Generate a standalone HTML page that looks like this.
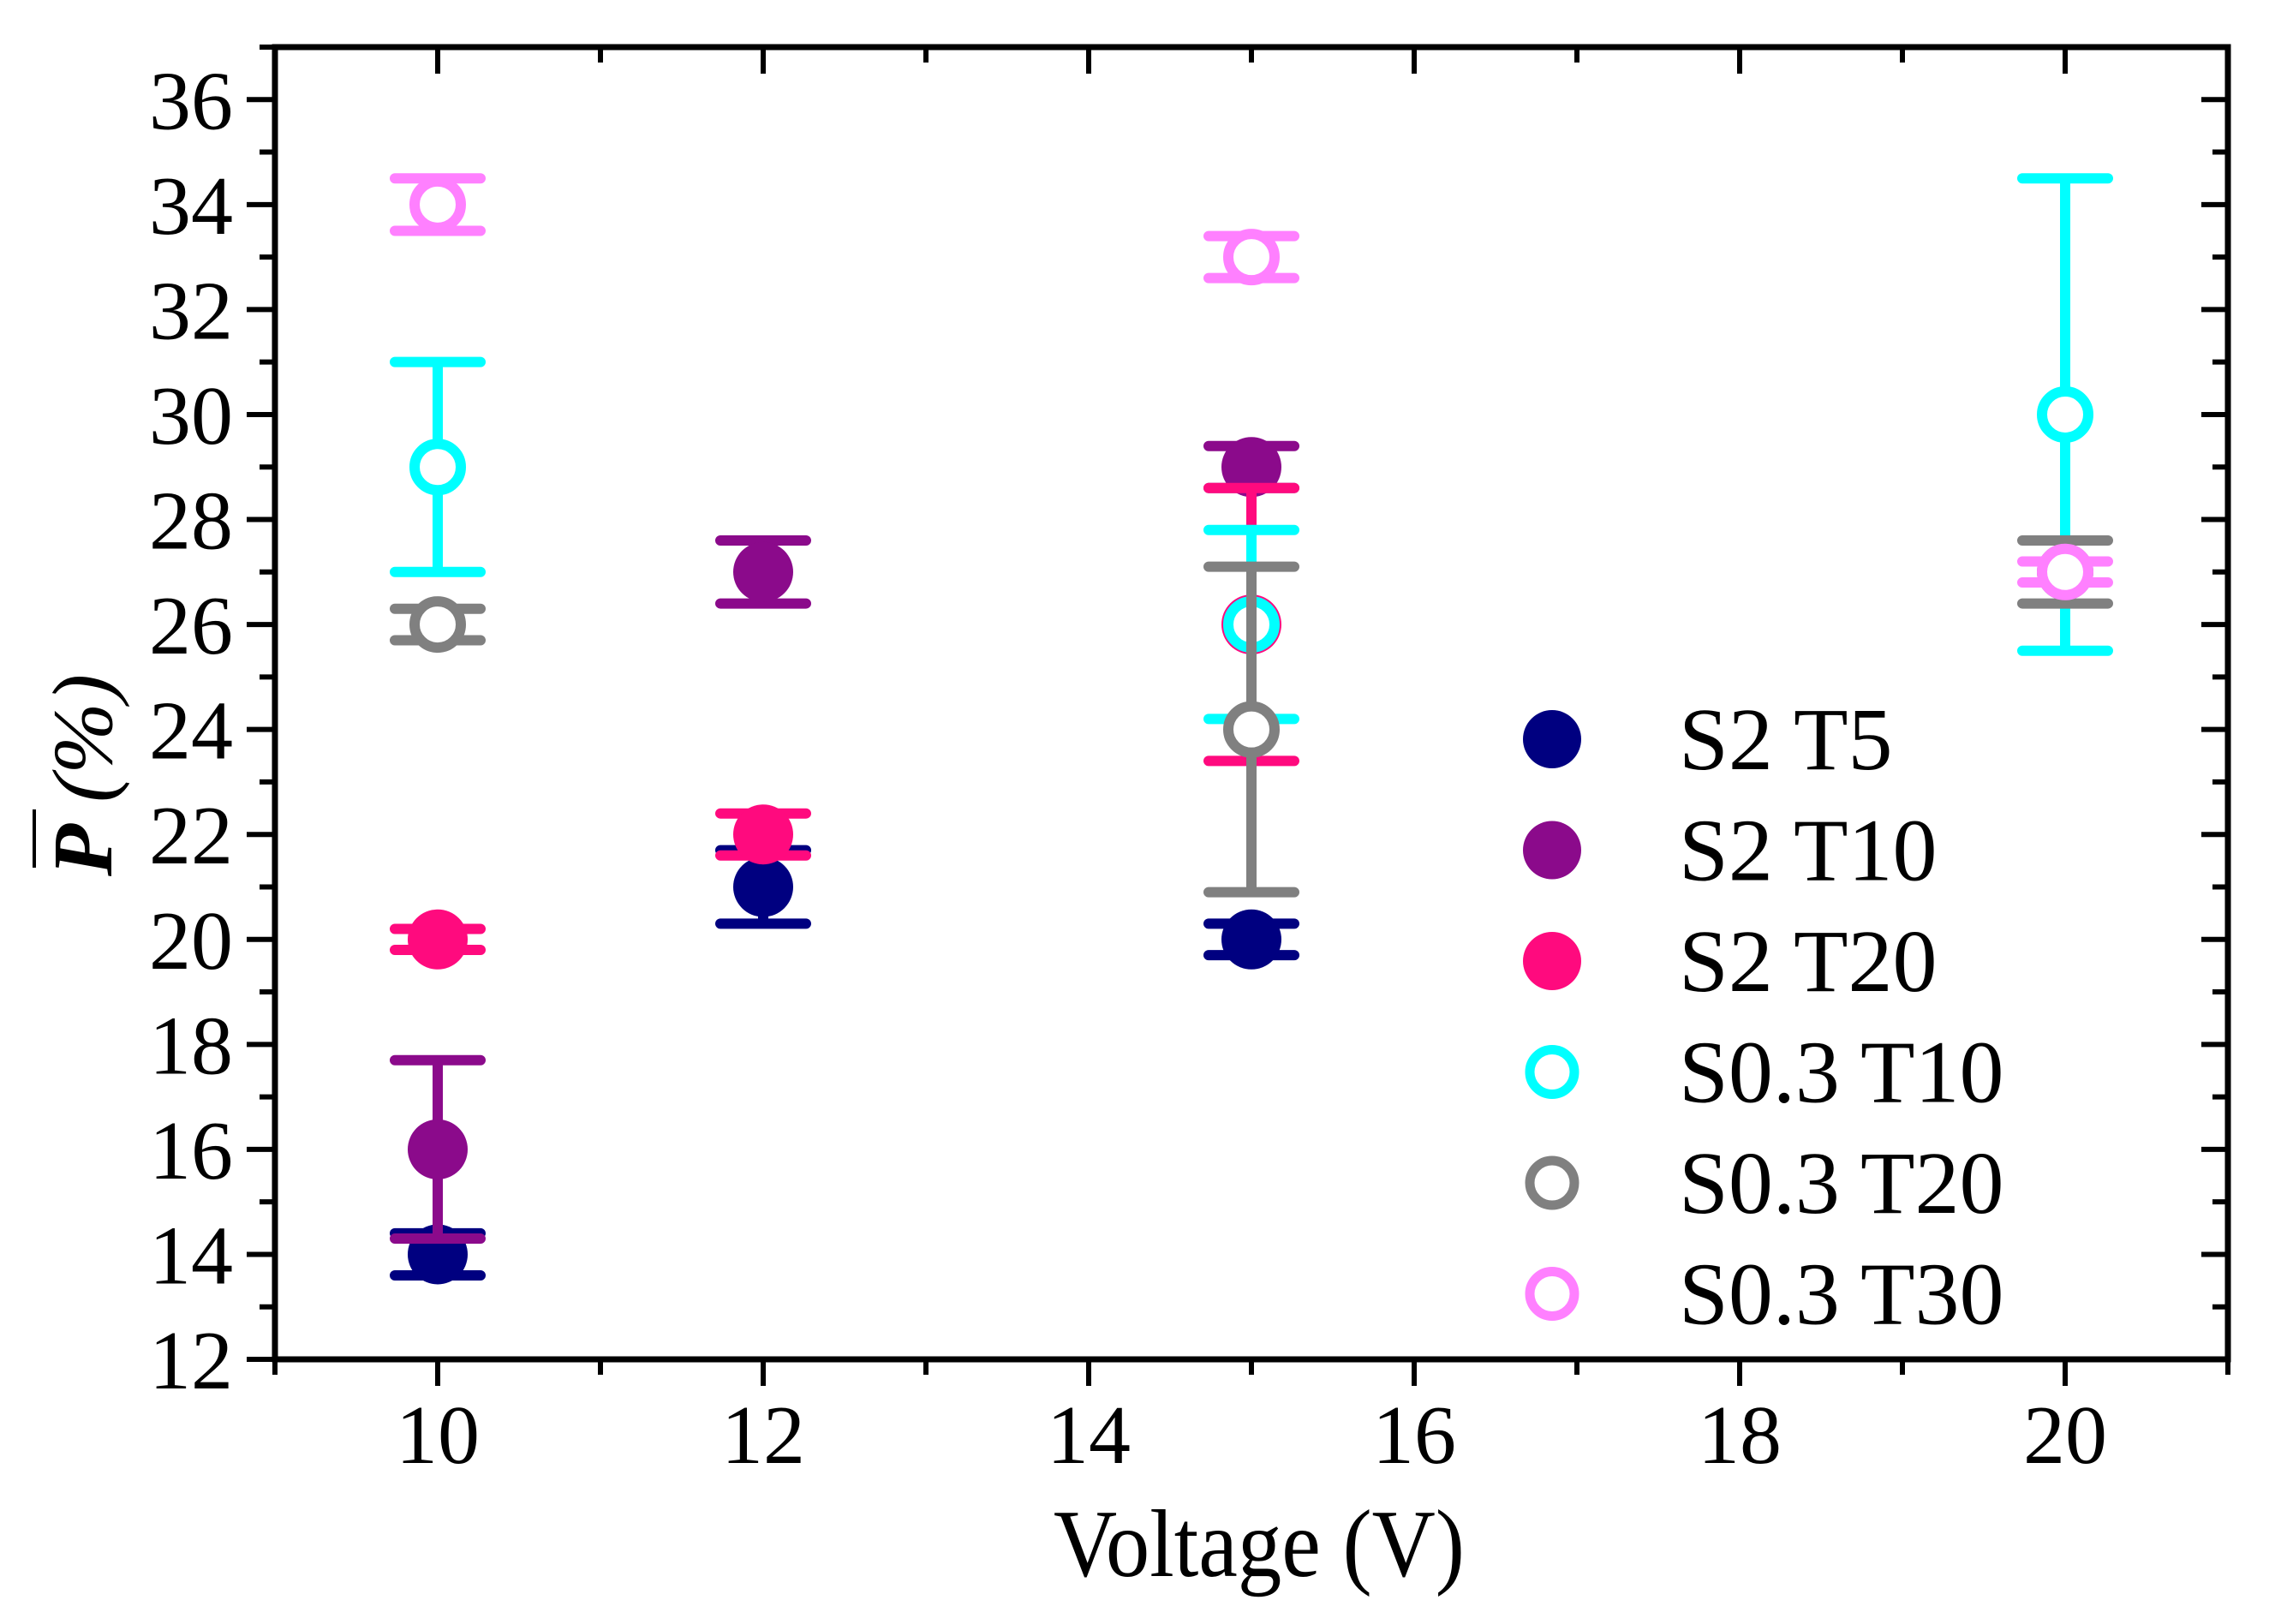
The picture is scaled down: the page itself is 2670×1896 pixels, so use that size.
<!DOCTYPE html>
<html><head><meta charset="utf-8"><style>
html,body{margin:0;padding:0;background:#fff}
svg{display:block}
text{font-family:"Liberation Serif","Times New Roman",Times,serif;fill:#000}
</style></head><body>
<svg id="chart" width="2670" height="1896" viewBox="0 0 2670 1896" xmlns="http://www.w3.org/2000/svg">
<g id="axes"></g>
<g id="marks"></g>
<g id="legend"></g>
<text x="1470" y="1840" font-size="112" text-anchor="middle" font-family="Liberation Serif, serif" textLength="480" lengthAdjust="spacingAndGlyphs">Voltage (V)</text>
<g transform="translate(130,905) rotate(-90)">
<text x="0" y="0" font-size="100" text-anchor="middle" font-family="Liberation Serif, serif"><tspan font-style="italic" font-weight="bold">P</tspan><tspan font-style="italic"> (%)</tspan></text>
</g>
<line x1="40" y1="945" x2="40" y2="1013" stroke="#000" stroke-width="4"/>
</svg>
<script>
const NS='http://www.w3.org/2000/svg';
const xTicks=[10,12,14,16,18,20];
const yTicks=[12,14,16,18,20,22,24,26,28,30,32,34,36];
const seriesNames=['S2 T5','S2 T10','S2 T20','S0.3 T10','S0.3 T20','S0.3 T30'];
const seriesColors=['#000080','#8B0A8B','#FF0A7E','#00FFFF','#808080','#FF80FF'];
const seriesFilled=[true,true,true,false,false,false];
const s2t5X=[10,12,15], s2t5Y=[14,21,20], s2t5Lo=[13.6,20.3,19.7], s2t5Hi=[14.4,21.7,20.3];
const s2t10X=[10,12,15], s2t10Y=[16,27,29], s2t10Lo=[14.3,26.4,28.6], s2t10Hi=[17.7,27.6,29.4];
const s2t20X=[10,12,15], s2t20Y=[20,22,26], s2t20Lo=[19.8,21.6,23.4], s2t20Hi=[20.2,22.4,28.6];
const s03t10X=[10,15,20], s03t10Y=[29,26,30], s03t10Lo=[27,24.2,25.5], s03t10Hi=[31,27.8,34.5];
const s03t20X=[10,15,20], s03t20Y=[26,24,27], s03t20Lo=[25.7,20.9,26.4], s03t20Hi=[26.3,27.1,27.6];
const s03t30X=[10,15,20], s03t30Y=[34,33,27], s03t30Lo=[33.5,32.6,26.8], s03t30Hi=[34.5,33.4,27.2];
const allSeries=[[s2t5X,s2t5Y,s2t5Lo,s2t5Hi],[s2t10X,s2t10Y,s2t10Lo,s2t10Hi],[s2t20X,s2t20Y,s2t20Lo,s2t20Hi],[s03t10X,s03t10Y,s03t10Lo,s03t10Hi],[s03t20X,s03t20Y,s03t20Lo,s03t20Hi],[s03t30X,s03t30Y,s03t30Lo,s03t30Hi]];

const L=321,R=2601,T=55,B=1587,xMin=9,xMax=21,yMin=12,yMax=37;
const X=v=>L+(v-xMin)/(xMax-xMin)*(R-L);
const Y=v=>B-(v-yMin)/(yMax-yMin)*(B-T);
function mk(tag,attrs,parent){const e=document.createElementNS(NS,tag);for(const k in attrs)e.setAttribute(k,attrs[k]);parent.appendChild(e);return e;}
const axes=document.getElementById('axes'),marks=document.getElementById('marks'),legend=document.getElementById('legend');
const frame=mk('rect',{x:L,y:T,width:R-L,height:B-T,fill:'none',stroke:'#000','stroke-width':7},axes);


for(let v=xMin;v<=xMax;v++){
  const major=xTicks.includes(v);const x=X(v);
  const t=mk('line',{x1:x,y1:B,x2:x,y2:B+(major?31:18),stroke:'#000','stroke-width':6},axes);
  
  
  const t2=mk('line',{x1:x,y1:T,x2:x,y2:T+(major?31:18),stroke:'#000','stroke-width':6},axes);
  
  
}
xTicks.forEach(v=>{
  const tx=mk('text',{x:X(v),y:1708,'font-size':98,'text-anchor':'middle','font-family':'Liberation Serif, serif'},axes);tx.textContent=v;
  
  
});
for(let v=yMin;v<=yMax;v++){
  const major=yTicks.includes(v);const y=Y(v);
  const t=mk('line',{x1:L,y1:y,x2:L-(major?33:18),y2:y,stroke:'#000','stroke-width':6},axes);
  
  
  const t2=mk('line',{x1:R,y1:y,x2:R-(major?31:18),y2:y,stroke:'#000','stroke-width':6},axes);
  
  
}
yTicks.forEach(v=>{
  const tx=mk('text',{x:272,y:Y(v)+34,'font-size':98,'text-anchor':'end','font-family':'Liberation Serif, serif'},axes);tx.textContent=v;
  
  
});
allSeries.forEach((s,i)=>{
  const c=seriesColors[i];
  const g=mk('g',{},marks);
  
  
  s[0].forEach((xv,j)=>{
    const x=X(xv);
    const eb=mk('path',{d:`M${x},${Y(s[2][j])}V${Y(s[3][j])}M${x-50},${Y(s[2][j])}H${x+50}M${x-50},${Y(s[3][j])}H${x+50}`,stroke:c,'stroke-width':12,'stroke-linecap':'round',fill:'none'},g);
    
    
    const p=seriesFilled[i]?mk('circle',{cx:x,cy:Y(s[1][j]),r:35,fill:c},g):mk('circle',{cx:x,cy:Y(s[1][j]),r:27,fill:'#fff',stroke:c,'stroke-width':12},g);
    
    
  });
});
seriesNames.forEach((n,i)=>{
  const y=863+i*129.5;const c=seriesColors[i];
  const m=seriesFilled[i]?mk('circle',{cx:1812,cy:y,r:34,fill:c},legend):mk('circle',{cx:1812,cy:y,r:26,fill:'#fff',stroke:c,'stroke-width':11},legend);
  
  
  const t=mk('text',{x:1960,y:y+35,'font-size':104,'font-family':'Liberation Serif, serif'},legend);t.textContent=n;
  
  
});
</script>
</body></html>
